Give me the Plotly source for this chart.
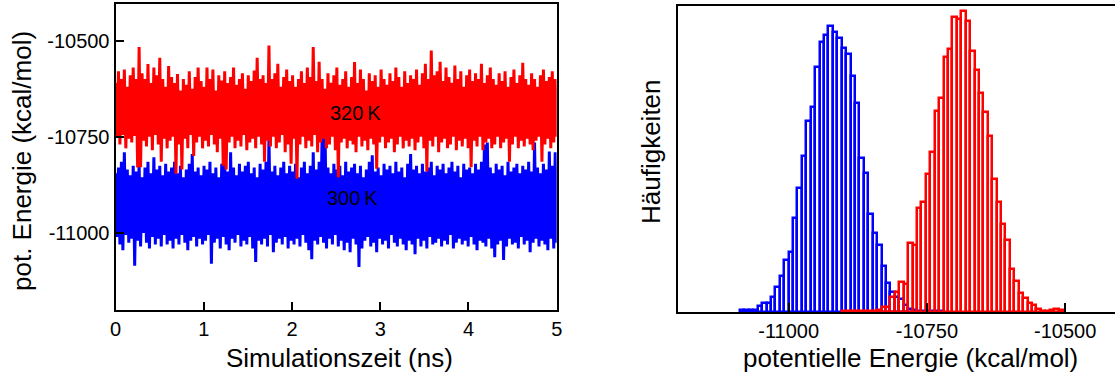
import numpy as np
import plotly.graph_objects as go

# ---------------- data ----------------
# time series: per-column upper / lower envelope of the dense energy traces (kcal/mol), 0..5 ns
red_top = [-10610, -10580, -10600, -10575, -10620, -10590, -10570, -10600, -10517, -10585,
           -10600, -10561, -10610, -10570, -10590, -10545, -10600, -10620, -10566, -10595,
           -10610, -10587, -10630, -10600, -10615, -10580, -10625, -10595, -10570, -10605,
           -10620, -10570, -10600, -10575, -10630, -10590, -10604, -10580, -10610, -10595,
           -10570, -10615, -10600, -10585, -10625, -10590, -10605, -10578, -10545, -10600,
           -10590, -10610, -10513, -10600, -10585, -10560, -10620, -10595, -10575, -10605,
           -10590, -10620, -10600, -10580, -10610, -10570, -10595, -10517, -10605, -10555,
           -10600, -10625, -10585, -10610, -10590, -10570, -10615, -10600, -10580, -10620,
           -10595, -10556, -10610, -10575, -10600, -10630, -10585, -10605, -10590, -10620,
           -10575, -10600, -10615, -10585, -10605, -10570, -10595, -10620, -10580, -10610,
           -10590, -10600, -10575, -10615, -10585, -10560, -10600, -10526, -10590, -10580,
           -10555, -10605, -10570, -10595, -10610, -10565, -10600, -10580, -10620, -10590,
           -10575, -10605, -10585, -10600, -10560, -10610, -10590, -10570, -10600, -10615,
           -10585, -10605, -10580, -10620, -10595, -10575, -10610, -10590, -10558, -10600,
           -10615, -10585, -10600, -10620, -10590, -10575, -10605, -10595, -10580, -10600]
red_bot = [-10750, -10770, -10745, -10780, -10755, -10765, -10748, -10830, -10829, -10760,
           -10775, -10750, -10785, -10745, -10770, -10815, -10755, -10780, -10760, -10750,
           -10846, -10770, -10835, -10755, -10780, -10745, -10800, -10765, -10750, -10780,
           -10760, -10775, -10745, -10770, -10790, -10755, -10825, -10835, -10765, -10750,
           -10780, -10760, -10775, -10745, -10785, -10765, -10755, -10780, -10750, -10770,
           -10815, -10760, -10775, -10750, -10780, -10765, -10745, -10790, -10770, -10820,
           -10755, -10859, -10770, -10750, -10780, -10760, -10775, -10745, -10790, -10765,
           -10755, -10780, -10770, -10750, -10785, -10855, -10765, -10755, -10780, -10760,
           -10770, -10790, -10750, -10775, -10760, -10785, -10755, -10770, -10833, -10765,
           -10750, -10780, -10765, -10755, -10790, -10770, -10750, -10780, -10760, -10775,
           -10755, -10785, -10765, -10750, -10780, -10840, -10760, -10775, -10750, -10790,
           -10765, -10755, -10780, -10770, -10750, -10785, -10760, -10775, -10755, -10780,
           -10829, -10760, -10775, -10750, -10785, -10765, -10755, -10780, -10770, -10750,
           -10780, -10765, -10755, -10815, -10770, -10750, -10780, -10760, -10775, -10755,
           -10770, -10785, -10760, -10750, -10815, -10770, -10755, -10780, -10765, -10750]
blue_top = [-10845, -10830, -10815, -10790, -10835, -10850, -10825, -10840, -10820, -10855,
            -10830, -10815, -10845, -10803, -10835, -10825, -10850, -10820, -10840, -10830,
            -10815, -10845, -10825, -10855, -10835, -10820, -10795, -10840, -10830, -10850,
            -10825, -10835, -10815, -10845, -10830, -10855, -10820, -10815, -10840, -10790,
            -10830, -10850, -10820, -10840, -10825, -10815, -10845, -10830, -10855, -10820,
            -10835, -10815, -10751, -10840, -10825, -10850, -10830, -10815, -10845, -10825,
            -10840, -10820, -10855, -10830, -10815, -10845, -10825, -10790, -10835, -10815,
            -10745, -10725, -10830, -10845, -10820, -10835, -10825, -10850, -10815, -10840,
            -10830, -10820, -10845, -10825, -10855, -10835, -10815, -10798, -10840, -10830,
            -10850, -10820, -10835, -10825, -10845, -10815, -10840, -10830, -10855, -10820,
            -10795, -10835, -10825, -10845, -10820, -10840, -10830, -10815, -10850, -10825,
            -10835, -10820, -10845, -10830, -10815, -10840, -10825, -10855, -10820, -10835,
            -10830, -10845, -10820, -10835, -10815, -10770, -10765, -10830, -10845, -10820,
            -10835, -10825, -10850, -10815, -10840, -10830, -10820, -10845, -10825, -10835,
            -10815, -10840, -10765, -10830, -10845, -10820, -10835, -10788, -10825, -10790]
blue_bot = [-11010, -11030, -11045, -11005, -11025, -11015, -11085, -11020, -11035, -11000,
            -11025, -11040, -11010, -11030, -11015, -11035, -11005, -11030, -11020, -11040,
            -11015, -11030, -11005, -11025, -11045, -11020, -11010, -11035, -11015, -11030,
            -11020, -11005, -11080, -11025, -11015, -11040, -11010, -11030, -11045, -11015,
            -11025, -11005, -11035, -11020, -11030, -11010, -11040, -11075, -11020, -11030,
            -11015, -11035, -11005, -11050, -11025, -11015, -11030, -11010, -11040, -11020,
            -11030, -11015, -11035, -11005, -11025, -11045, -11068, -11020, -11030, -11010,
            -11025, -11040, -11015, -11030, -11005, -11035, -11020, -11045, -11025, -11050,
            -11015, -11030, -11088, -11040, -11020, -11010, -11035, -11025, -11050, -11015,
            -11030, -11020, -11040, -11005, -11025, -11035, -11015, -11030, -11045, -11020,
            -11030, -11055, -11015, -11035, -11020, -11040, -11010, -11030, -11025, -11015,
            -11035, -11020, -11030, -11005, -11040, -11025, -11015, -11030, -11020, -11035,
            -11010, -11030, -11045, -11020, -11025, -11035, -11015, -11040, -11063, -11030,
            -11020, -11070, -11035, -11015, -11030, -11025, -11040, -11010, -11030, -11020,
            -11050, -11025, -11015, -11035, -11020, -11030, -11045, -11015, -11040, -11025]
t_start, t_end = 0.0, 5.0

# histograms (relative frequencies, arbitrary units), bin width 8 kcal/mol
bin_width = 8
blue_first_edge = -11088
blue_counts = [2, 2, 2, 2, 6, 9, 9, 15, 25, 36, 52, 60, 94, 124, 156, 191, 205, 245, 270, 277,
               286, 280, 274, 264, 258, 236, 209, 154, 139, 98, 79, 67, 46, 29, 20, 15, 13, 7, 3, 2,
               1, 1, 1, 1, 1, 1]
red_first_edge = -10904
red_counts = [1, 1, 1, 1, 1, 1, 1, 1, 2, 5, 5, 15, 20, 30, 28, 69, 67, 104, 110, 138, 160, 201,
              214, 255, 263, 295, 293, 301, 291, 261, 242, 219, 200, 176, 133, 110, 88, 72, 43, 31,
              19, 14, 9, 7, 3, 1, 1, 2, 3, 2]

e_ticks = [-11000, -10750, -10500]
e_ticktext = ["-11000", "-10750", "-10500"]
time_ticks = [0, 1, 2, 3, 4, 5]
labels_T = ["320\u2009K", "300\u2009K"]

# ---------------- build ----------------
def zigzag(top, bot):
    v = np.empty(2 * len(top))
    v[0::2] = top
    v[1::2] = bot
    t = np.linspace(t_start, t_end, len(v))
    return t, v

W, H = 1115, 379
FONT = "Liberation Sans, Arial, sans-serif"
RED = "#ff0000"
BLUE = "#0000ff"

fig = go.Figure()
tb, vb = zigzag(blue_top, blue_bot)
tr, vr = zigzag(red_top, red_bot)
fig.add_trace(go.Scatter(x=tb, y=vb, mode="lines", line=dict(color=BLUE, width=3, simplify=False),
                         xaxis="x", yaxis="y", showlegend=False, hoverinfo="skip"))
fig.add_trace(go.Scatter(x=tr, y=vr, mode="lines", line=dict(color=RED, width=3, simplify=False),
                         xaxis="x", yaxis="y", showlegend=False, hoverinfo="skip"))

bc = [blue_first_edge + bin_width * (i + 0.5) for i in range(len(blue_counts))]
rc = [red_first_edge + bin_width * (i + 0.5) for i in range(len(red_counts))]
fig.add_trace(go.Bar(x=bc, y=blue_counts, width=bin_width, xaxis="x2", yaxis="y2",
                     marker=dict(color="rgba(255,255,255,0)", line=dict(color=BLUE, width=2.5)),
                     showlegend=False, hoverinfo="skip"))
fig.add_trace(go.Bar(x=rc, y=red_counts, width=bin_width, xaxis="x2", yaxis="y2",
                     marker=dict(color="rgba(255,255,255,0)", line=dict(color=RED, width=2.5)),
                     showlegend=False, hoverinfo="skip"))

def px_x(p):
    return p / W

def px_y(p):
    return 1 - p / H

axis_common = dict(showgrid=False, zeroline=False, showline=True, linecolor="black", linewidth=2,
                   ticks="inside", tickcolor="black", tickwidth=2, automargin=False,
                   tickfont=dict(family=FONT, size=20, color="black"))

fig.update_layout(
    width=W, height=H, margin=dict(l=0, r=0, t=0, b=0),
    paper_bgcolor="white", plot_bgcolor="white", barmode="overlay", bargap=0,
    font=dict(family=FONT, color="black"),
    xaxis=dict(axis_common, domain=[px_x(115.5), px_x(556.7)], range=[0, 5], tickvals=time_ticks,
               ticklen=8, mirror=True),
    yaxis=dict(axis_common, domain=[px_y(310), px_y(4)], range=[-11200, -10405], tickvals=e_ticks,
               ticktext=e_ticktext, ticklen=8, mirror=True),
    xaxis2=dict(axis_common, domain=[px_x(678), 1.0], range=[-11200, -10410], tickvals=e_ticks,
                ticktext=e_ticktext, ticklen=9, mirror=True, anchor="y2"),
    yaxis2=dict(axis_common, domain=[px_y(312), px_y(6)], range=[0, 306], showticklabels=False,
                ticks="", mirror=False, anchor="x2"),
)

title_font = dict(family=FONT, size=26, color="black")
ann = [
    dict(text="Simulationszeit (ns)", x=px_x(339.5), y=px_y(358), xref="paper", yref="paper",
         showarrow=False, font=title_font, xanchor="center", yanchor="middle"),
    dict(text="pot. Energie (kcal/mol)", x=px_x(22), y=px_y(161), xref="paper", yref="paper",
         showarrow=False, font=title_font, xanchor="center", yanchor="middle", textangle=-90),
    dict(text="Häufigkeiten", x=px_x(651), y=px_y(152), xref="paper", yref="paper",
         showarrow=False, font=title_font, xanchor="center", yanchor="middle", textangle=-90),
    dict(text="potentielle Energie (kcal/mol)", x=px_x(910), y=px_y(358), xref="paper", yref="paper",
         showarrow=False, font=title_font, xanchor="center", yanchor="middle"),
    dict(text=labels_T[0], x=2.725, y=-10688, xref="x", yref="y", showarrow=False,
         font=dict(family=FONT, size=20, color="black"), xanchor="center", yanchor="middle"),
    dict(text=labels_T[1], x=2.686, y=-10909, xref="x", yref="y", showarrow=False,
         font=dict(family=FONT, size=20, color="black"), xanchor="center", yanchor="middle"),
]
fig.update_layout(annotations=ann)

fig.write_html("out.html")
